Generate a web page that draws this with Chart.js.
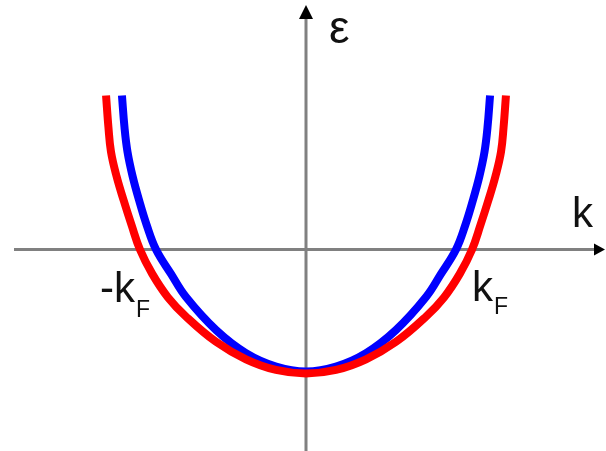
<!DOCTYPE html>
<html>
<head>
<meta charset="utf-8">
<script src="https://cdn.jsdelivr.net/npm/chart.js@4/dist/chart.umd.min.js"></script>
<style>
  html, body { margin: 0; padding: 0; background: #fff; overflow: hidden; }
  canvas { display: block; }
</style>
</head>
<body>
<canvas id="c" width="606" height="451"></canvas>
<script>
// Band dispersion ε(k) for two bands; k in units of the inner band's k_F,
// ε in units of the inner band's depth.
const kBlue = [-1.227, -1.210, -1.190, -1.156, -1.112, -1.062, -1.000, -0.900, -0.800, -0.600, -0.400, -0.200, 0,
               0.200, 0.400, 0.600, 0.800, 0.900, 1.000, 1.062, 1.112, 1.156, 1.190, 1.210, 1.227];
const eBlue = [1.262, 1.000, 0.800, 0.600, 0.400, 0.200, 0, -0.200, -0.390, -0.660, -0.850, -0.960, -1.000,
               -0.960, -0.850, -0.660, -0.390, -0.200, 0, 0.200, 0.400, 0.600, 0.800, 1.000, 1.262];

const kRed = [-1.333, -1.317, -1.300, -1.263, -1.215, -1.163, -1.107, -1.025, -0.920, -0.800, -0.600, -0.400, -0.200, 0,
              0.200, 0.400, 0.600, 0.800, 0.920, 1.025, 1.107, 1.163, 1.215, 1.263, 1.300, 1.317, 1.333];
const eRed = [1.262, 1.000, 0.800, 0.600, 0.400, 0.200, 0, -0.200, -0.393, -0.550, -0.757, -0.900, -0.987, -1.016,
              -0.987, -0.900, -0.757, -0.550, -0.393, -0.200, 0, 0.200, 0.400, 0.600, 0.800, 1.000, 1.262];

// Axis titles and Fermi-wavevector labels
const axisTitles = ['ε', 'k'];
const fermiLabels = [['-k', 'F'], ['k', 'F']];

const toPoints = (ks, es) => ks.map((k, i) => ({ x: k, y: es[i] }));
const FONT = '"Liberation Sans", Arial, sans-serif';

// Coordinate axes with arrowheads crossing at the origin, plus their labels
const axesPlugin = {
  id: 'axes',
  beforeDatasetsDraw(chart) {
    const { ctx, scales: { x, y }, chartArea: a } = chart;
    const x0 = x.getPixelForValue(0), y0 = y.getPixelForValue(0);
    ctx.save();
    ctx.strokeStyle = '#808080';
    ctx.lineWidth = 3;
    ctx.beginPath();
    ctx.moveTo(14, y0); ctx.lineTo(a.right - 10, y0);
    ctx.moveTo(x0, a.bottom); ctx.lineTo(x0, 16);
    ctx.stroke();
    ctx.fillStyle = '#000';
    ctx.beginPath();
    ctx.moveTo(a.right - 1, y0); ctx.lineTo(a.right - 12, y0 - 6); ctx.lineTo(a.right - 12, y0 + 6);
    ctx.closePath(); ctx.fill();
    ctx.beginPath();
    ctx.moveTo(x0, 5); ctx.lineTo(x0 - 7, 19); ctx.lineTo(x0 + 7, 19);
    ctx.closePath(); ctx.fill();
    ctx.restore();
  },
  afterDatasetsDraw(chart) {
    const { ctx, scales: { x, y } } = chart;
    const x0 = x.getPixelForValue(0), y0 = y.getPixelForValue(0);
    ctx.save();
    ctx.fillStyle = '#111';
    ctx.textBaseline = 'alphabetic';
    ctx.textAlign = 'left';
    // axis titles: ε beside the vertical arrow, k above the horizontal arrow
    ctx.font = '46px ' + FONT;
    ctx.fillText(axisTitles[0], x0 + 23, 43);
    ctx.font = '42px ' + FONT;
    ctx.fillText(axisTitles[1], x.right - 34, y0 - 22);
    // ±k_F labels just below the axis, outside the crossings
    const spots = [[x0 - 206, y0 + 53, 15], [x0 + 166, y0 + 52, 13]];
    fermiLabels.forEach(([t, sub], i) => {
      const [px, py, dy] = spots[i];
      ctx.font = '42px ' + FONT;
      ctx.fillText(t, px, py);
      const w = ctx.measureText(t).width;
      ctx.font = '23px ' + FONT;
      ctx.fillText(sub, px + w + 1, py + dy);
    });
    ctx.restore();
  }
};

const curve = (ks, es, color) => ({
  data: toPoints(ks, es),
  showLine: true,
  borderColor: color,
  borderWidth: 8,
  pointRadius: 0,
  tension: 0.4
});

new Chart(document.getElementById('c'), {
  type: 'scatter',
  data: {
    datasets: [
      curve(kRed, eRed, '#ff0000'),
      curve(kBlue, eBlue, '#0000ff')
    ]
  },
  options: {
    responsive: false,
    devicePixelRatio: 1,
    animation: false,
    layout: { padding: 0 },
    plugins: { legend: { display: false }, tooltip: { enabled: false } },
    scales: {
      x: { type: 'linear', display: false, min: -2.04, max: 2.0 },
      y: { type: 'linear', display: false, min: -1.652, max: 2.045 }
    }
  },
  plugins: [axesPlugin]
});
</script>
</body>
</html>
